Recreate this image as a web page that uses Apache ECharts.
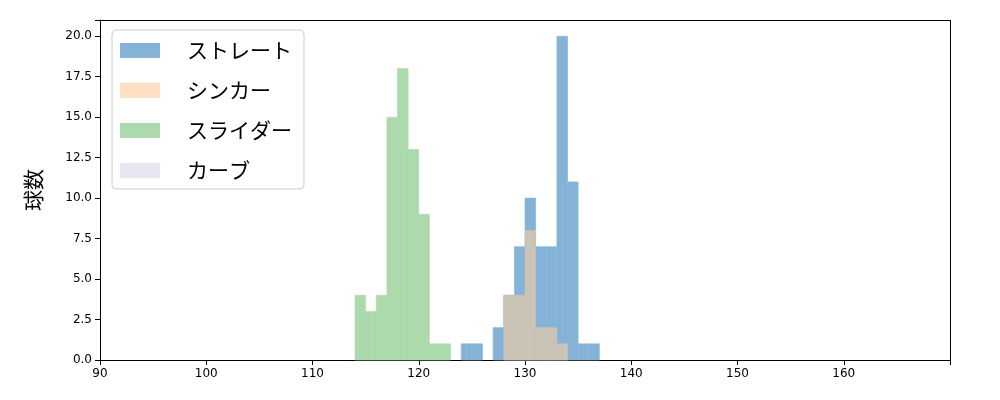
<!DOCTYPE html>
<html><head><meta charset="utf-8">
<script src="https://cdn.jsdelivr.net/npm/echarts@6/dist/echarts.min.js"></script>
</head><body style="margin:0">
<div id="chartmain1" style="width:1000px;height:400px"></div>
<script>
// bin start values (width 1) and counts
var straightBins = [124,125,127,128,129,130,131,132,133,134,135,136];
var straightCounts = [1,1,2,4,7,10,7,7,20,11,1,1];
var sinkerBins = [128,129,130,131,132,133];
var sinkerCounts = [4,4,8,2,2,1];
var sliderBins = [114,115,116,117,118,119,120,121,122];
var sliderCounts = [4,3,4,15,18,13,9,1,1];
var curveBins = [];
var curveCounts = [];

function toData(bins, counts){
    return bins.map(function(b, i){ return [b, b + 1, counts[i]]; });
}
function renderBar(params, api){
    var p0 = api.coord([api.value(0), api.value(2)]);
    var p1 = api.coord([api.value(1), 0]);
    var c = api.visual('color');
    return {type: 'rect', shape: {x: p0[0], y: p0[1], width: p1[0] - p0[0], height: p1[1] - p0[1]},
        style: {fill: c, stroke: c, lineWidth: 0.6}};
}
function mk(name, bins, counts, color){
    return {name: name, type: 'custom', renderItem: renderBar, data: toData(bins, counts),
        itemStyle: {color: color}, encode: {x: [0, 1], y: 2}};
}
var font = 'DejaVu Sans, Noto Sans CJK JP';
var myChart = echarts.init(document.getElementById('chartmain1'));
var option = {
    animation: false,
    textStyle: {fontFamily: font},
    grid: {left: 100, right: 50, top: 20, bottom: 40},
    legend: {
        left: 112, top: 30, orient: 'vertical', icon: 'rect', itemWidth: 40, itemHeight: 15, itemGap: 19,
        padding: [10, 12, 8, 8], borderColor: '#cccccc', borderWidth: 1, borderRadius: 4,
        backgroundColor: 'rgba(255,255,255,0.8)',
        textStyle: {fontSize: 21, color: '#000', fontFamily: 'Noto Sans CJK JP', padding: [0, 0, 0, 22]},
        data: [
            {name: 'ストレート', itemStyle: {color: '#84b3d7'}},
            {name: 'シンカー', itemStyle: {color: '#ffdfc1'}},
            {name: 'スライダー', itemStyle: {color: '#acdaac'}},
            {name: 'カーブ', itemStyle: {color: '#e8e6f1'}}
        ]
    },
    xAxis: {type: 'value', min: 90, max: 170, interval: 10,
        axisLabel: {color: '#000', fontSize: 12, formatter: function(v){ return v >= 170 ? '' : v; }},
        axisLine: {lineStyle: {color: '#000'}}, axisTick: {lineStyle: {color: '#000'}}, splitLine: {show: false}},
    yAxis: {type: 'value', min: 0, max: 21, interval: 2.5, name: '球数', nameLocation: 'middle', nameGap: 56,
        nameTextStyle: {fontSize: 21, color: '#000', fontFamily: 'Noto Sans CJK JP'},
        axisLabel: {color: '#000', fontSize: 12, formatter: function(v){ return v > 20 ? '' : v.toFixed(1); }},
        axisLine: {show: true, lineStyle: {color: '#000'}}, axisTick: {show: true, lineStyle: {color: '#000'}},
        splitLine: {show: false}},
    series: [
        mk('ストレート', straightBins, straightCounts, '#84b3d7'),
        mk('シンカー', sinkerBins, sinkerCounts, '#cbc4b6'),
        mk('スライダー', sliderBins, sliderCounts, '#acdaac'),
        mk('カーブ', curveBins, curveCounts, '#e8e6f1')
    ]
};
myChart.setOption(option);
</script>
<div style="position:absolute;left:100px;top:20px;width:849px;height:339px;border:1px solid #000;border-bottom:none;pointer-events:none"></div>
</body></html>
